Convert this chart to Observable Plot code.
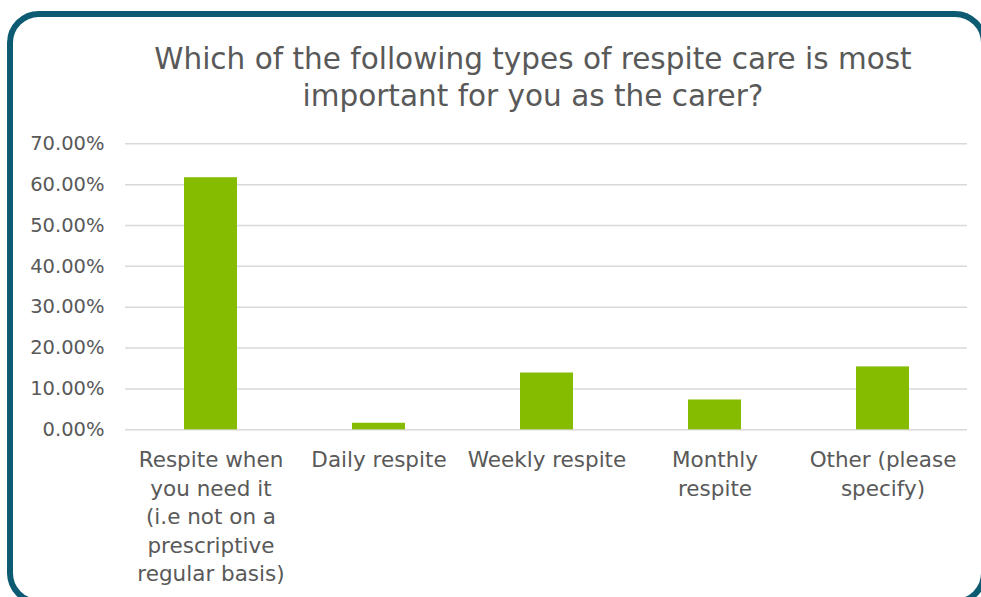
<!DOCTYPE html>
<html>
<head>
<meta charset="utf-8">
<script src="https://cdn.jsdelivr.net/npm/d3@7"></script>
<script src="https://cdn.jsdelivr.net/npm/@observablehq/plot@0.6"></script>
<style>
  html, body { margin: 0; padding: 0; background: #fff; overflow: hidden; }
  #wrap { position: relative; width: 981px; height: 597px; overflow: hidden; font-family: "DejaVu Sans", sans-serif; }
  #frame { position: absolute; left: 7px; top: 11px; width: 980px; height: 594px; box-sizing: border-box;
           border: 6px solid #0d5a73; border-radius: 32px; pointer-events: none; }
  #title { height: 120px; box-sizing: border-box; padding-top: 40.6px; padding-left: 85px; text-align: center;
           font-size: 29.5px; line-height: 37px; color: #595959; }
  #chart svg { display: block; }
</style>
</head>
<body>
<div id="wrap">
  <div id="frame"></div>
  <div id="title">Which of the following types of respite care is most<br>important for you as the carer?</div>
  <div id="chart"></div>
</div>
<script>
const categories = [
  "Respite when you need it (i.e not on a prescriptive regular basis)",
  "Daily respite",
  "Weekly respite",
  "Monthly respite",
  "Other (please specify)"
];
const tickLabels = [
  "Respite when\nyou need it\n(i.e not on a\nprescriptive\nregular basis)",
  "Daily respite",
  "Weekly respite",
  "Monthly\nrespite",
  "Other (please\nspecify)"
];
const shares = [0.617, 0.016, 0.139, 0.073, 0.154];
const yTicks = [0, 0.1, 0.2, 0.3, 0.4, 0.5, 0.6, 0.7];

const data = categories.map((c, i) => ({category: c, share: shares[i]}));

const chart = Plot.plot({
  width: 981,
  height: 477,
  marginLeft: 125,
  marginRight: 14,
  marginTop: 23.3,
  marginBottom: 167.7,
  style: {fontFamily: "DejaVu Sans, sans-serif", background: "transparent", overflow: "visible"},
  x: {domain: categories, paddingInner: 0.685, paddingOuter: 0.3425, label: null},
  y: {domain: [0, 0.7], label: null},
  marks: [
    Plot.gridY(yTicks, {stroke: "#d9d9d9", strokeOpacity: 1, strokeWidth: 1.5}),
    Plot.barY(data, {x: "category", y: "share", fill: "#86bc00"}),
    Plot.axisY({ticks: yTicks, tickFormat: d3.format(".2%"), tickSize: 0, tickPadding: 21,
                fontSize: 19.5, color: "#595959", label: null}),
    Plot.axisX({tickSize: 0, tickPadding: 17.2, fontSize: 21.5, lineHeight: 1.326, color: "#595959",
                tickFormat: (d) => tickLabels[categories.indexOf(d)], label: null})
  ]
});
document.getElementById("chart").appendChild(chart);
</script>
</body>
</html>
